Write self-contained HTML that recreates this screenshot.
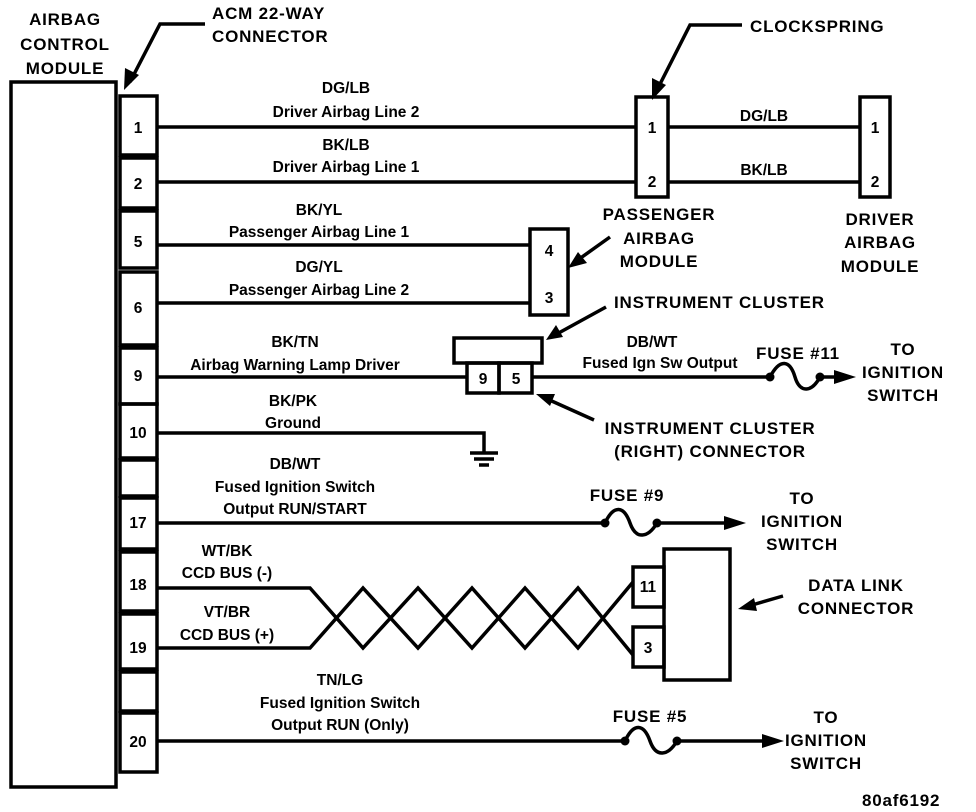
<!DOCTYPE html>
<html><head><meta charset="utf-8"><style>
html,body{margin:0;padding:0;background:#fff}
svg{display:block}
text{font-family:"Liberation Sans",sans-serif;font-size:15.5px;font-weight:bold;fill:#000}
.c{font-size:17px;letter-spacing:0.8px}
.m{text-anchor:middle}
</style></head><body>
<svg width="976" height="812" viewBox="0 0 976 812" xmlns="http://www.w3.org/2000/svg">
<g fill="none" stroke="#000" stroke-width="3.5">
<rect x="11" y="82" width="105" height="705"/>
<rect x="120" y="96" width="37" height="59"/>
<rect x="120" y="158" width="37" height="50"/>
<rect x="120" y="211" width="37" height="57"/>
<rect x="120" y="272" width="37" height="73"/>
<rect x="120" y="348" width="37" height="56"/>
<rect x="120" y="404" width="37" height="54"/>
<rect x="120" y="460" width="37" height="36"/>
<rect x="120" y="498" width="37" height="51"/>
<rect x="120" y="552" width="37" height="59"/>
<rect x="120" y="614" width="37" height="55"/>
<rect x="120" y="672" width="37" height="39"/>
<rect x="120" y="713" width="37" height="59"/>
<line x1="157" y1="127" x2="636" y2="127"/>
<line x1="157" y1="182" x2="636" y2="182"/>
<line x1="668" y1="127" x2="860" y2="127"/>
<line x1="668" y1="182" x2="860" y2="182"/>
<line x1="157" y1="245" x2="530" y2="245"/>
<line x1="157" y1="303" x2="530" y2="303"/>
<line x1="157" y1="377" x2="468" y2="377"/>
<line x1="532" y1="377" x2="770" y2="377"/>
<line x1="820" y1="377" x2="835" y2="377"/>
<polyline points="157,433 484,433 484,452"/>
<line x1="470" y1="453" x2="498" y2="453"/>
<line x1="474" y1="459" x2="494" y2="459"/>
<line x1="479" y1="465" x2="489" y2="465"/>
<line x1="157" y1="523" x2="605" y2="523"/>
<line x1="657" y1="523" x2="725" y2="523"/>
<line x1="157" y1="741" x2="625" y2="741"/>
<line x1="677" y1="741" x2="762" y2="741"/>
<polyline points="157,588 310,588 363,648 418,588 472,648 525,588 578,648 633,582"/>
<polyline points="157,648 310,648 363,588 418,648 472,588 525,648 578,588 633,655"/>
<rect x="636" y="97" width="32" height="100"/>
<rect x="860" y="97" width="30" height="100"/>
<rect x="530" y="229" width="38" height="86"/>
<rect x="454" y="338" width="88" height="25"/>
<rect x="467" y="363" width="32" height="30"/>
<rect x="499" y="363" width="33" height="30"/>
<rect x="664" y="549" width="66" height="131"/>
<rect x="633" y="567" width="31" height="40"/>
<rect x="633" y="627" width="31" height="40"/>
<path d="M770 377 C780 358,790 360,795 377 C800 394,812 392,820 377"/>
<path d="M605 523 C614 504,624 506,630 523 C636 540,648 538,657 523"/>
<path d="M625 741 C634 722,644 724,650 741 C656 758,668 756,677 741"/>
<polyline points="205,24 160,24 130,82"/>
<polyline points="742,25 690,25 658,88"/>
<line x1="610" y1="237" x2="575" y2="262"/>
<line x1="606" y1="307" x2="555" y2="335"/>
<line x1="594" y1="420" x2="545" y2="398"/>
<line x1="783" y1="596" x2="745" y2="607"/>
</g>
<g fill="#000">
<circle cx="770" cy="377" r="4.5"/><circle cx="820" cy="377" r="4.5"/>
<circle cx="605" cy="523" r="4.5"/><circle cx="657" cy="523" r="4.5"/>
<circle cx="625" cy="741" r="4.5"/><circle cx="677" cy="741" r="4.5"/>
<polygon points="856,377 834,370 834,384"/>
<polygon points="746,523 724,516 724,530"/>
<polygon points="784,741 762,734 762,748"/>
<polygon points="124,90 125,68 139,75"/>
<polygon points="652,100 652,78 666,85"/>
<polygon points="568,268 578,252 587,263"/>
<polygon points="546,340 556,325 563,337"/>
<polygon points="536,394 555,394 550,406"/>
<polygon points="738,609 754,598 757,611"/>
</g>
<text class="m c" x="65" y="25">AIRBAG</text>
<text class="m c" x="65" y="50">CONTROL</text>
<text class="m c" x="65" y="74">MODULE</text>
<text class="c" x="212" y="19">ACM 22-WAY</text>
<text class="c" x="212" y="42">CONNECTOR</text>
<text class="c" x="750" y="32">CLOCKSPRING</text>
<text class="m" x="138" y="133">1</text>
<text class="m" x="138" y="189">2</text>
<text class="m" x="138" y="247">5</text>
<text class="m" x="138" y="313">6</text>
<text class="m" x="138" y="381">9</text>
<text class="m" x="138" y="438">10</text>
<text class="m" x="138" y="528">17</text>
<text class="m" x="138" y="590">18</text>
<text class="m" x="138" y="653">19</text>
<text class="m" x="138" y="747">20</text>
<text class="m" x="346" y="93">DG/LB</text>
<text class="m" x="346" y="117">Driver Airbag Line 2</text>
<text class="m" x="346" y="150">BK/LB</text>
<text class="m" x="346" y="172">Driver Airbag Line 1</text>
<text class="m" x="319" y="215">BK/YL</text>
<text class="m" x="319" y="237">Passenger Airbag Line 1</text>
<text class="m" x="319" y="272">DG/YL</text>
<text class="m" x="319" y="295">Passenger Airbag Line 2</text>
<text class="m" x="295" y="347">BK/TN</text>
<text class="m" x="295" y="370">Airbag Warning Lamp Driver</text>
<text class="m" x="293" y="406">BK/PK</text>
<text class="m" x="293" y="428">Ground</text>
<text class="m" x="295" y="469">DB/WT</text>
<text class="m" x="295" y="492">Fused Ignition Switch</text>
<text class="m" x="295" y="514">Output RUN/START</text>
<text class="m" x="227" y="556">WT/BK</text>
<text class="m" x="227" y="578">CCD BUS (-)</text>
<text class="m" x="227" y="617">VT/BR</text>
<text class="m" x="227" y="640">CCD BUS (+)</text>
<text class="m" x="340" y="685">TN/LG</text>
<text class="m" x="340" y="708">Fused Ignition Switch</text>
<text class="m" x="340" y="730">Output RUN (Only)</text>
<text class="m" x="652" y="133">1</text>
<text class="m" x="652" y="187">2</text>
<text class="m" x="875" y="133">1</text>
<text class="m" x="875" y="187">2</text>
<text class="m" x="764" y="121">DG/LB</text>
<text class="m" x="764" y="175">BK/LB</text>
<text class="m" x="549" y="256">4</text>
<text class="m" x="549" y="303">3</text>
<text class="m c" x="659" y="220">PASSENGER</text>
<text class="m c" x="659" y="244">AIRBAG</text>
<text class="m c" x="659" y="267">MODULE</text>
<text class="m c" x="880" y="225">DRIVER</text>
<text class="m c" x="880" y="248">AIRBAG</text>
<text class="m c" x="880" y="272">MODULE</text>
<text class="c" x="614" y="308">INSTRUMENT CLUSTER</text>
<text class="m" x="483" y="384">9</text>
<text class="m" x="516" y="384">5</text>
<text class="m" x="652" y="347">DB/WT</text>
<text class="m" x="660" y="368">Fused Ign Sw Output</text>
<text class="m c" x="798" y="359">FUSE #11</text>
<text class="m c" x="903" y="355">TO</text>
<text class="m c" x="903" y="378">IGNITION</text>
<text class="m c" x="903" y="401">SWITCH</text>
<text class="m c" x="710" y="434">INSTRUMENT CLUSTER</text>
<text class="m c" x="710" y="457">(RIGHT) CONNECTOR</text>
<text class="m c" x="627" y="501">FUSE #9</text>
<text class="m c" x="802" y="504">TO</text>
<text class="m c" x="802" y="527">IGNITION</text>
<text class="m c" x="802" y="550">SWITCH</text>
<text class="m" x="648" y="592">11</text>
<text class="m" x="648" y="653">3</text>
<text class="m c" x="856" y="591">DATA LINK</text>
<text class="m c" x="856" y="614">CONNECTOR</text>
<text class="m c" x="650" y="722">FUSE #5</text>
<text class="m c" x="826" y="723">TO</text>
<text class="m c" x="826" y="746">IGNITION</text>
<text class="m c" x="826" y="769">SWITCH</text>
<text class="c" x="862" y="806">80af6192</text>
</svg>
</body></html>
